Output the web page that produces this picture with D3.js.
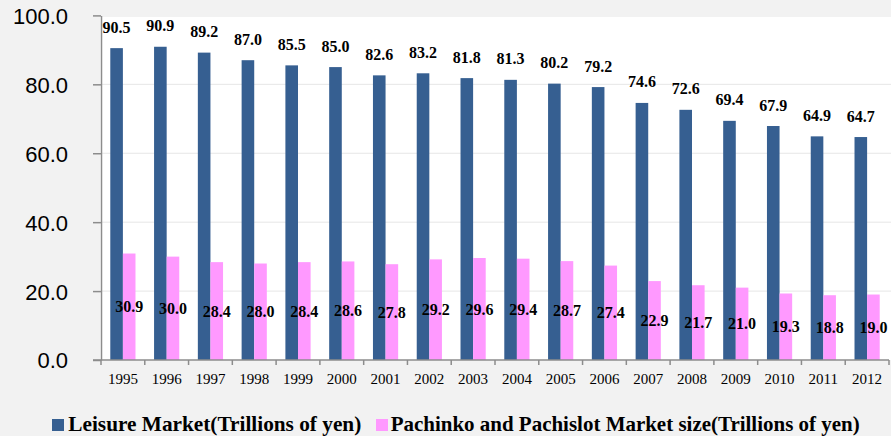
<!DOCTYPE html>
<html>
<head>
<meta charset="utf-8">
<script src="https://cdn.jsdelivr.net/npm/d3@7"></script>
<style>
  html, body { margin: 0; padding: 0; background: #f2f2f2; }
  svg { display: block; }
</style>
</head>
<body>
<svg id="chart" width="891" height="436"></svg>
<script>
const years = ["1995","1996","1997","1998","1999","2000","2001","2002","2003","2004","2005","2006","2007","2008","2009","2010","2011","2012"];
const leisure = [90.5,90.9,89.2,87.0,85.5,85.0,82.6,83.2,81.8,81.3,80.2,79.2,74.6,72.6,69.4,67.9,64.9,64.7];
const pachinko = [30.9,30.0,28.4,28.0,28.4,28.6,27.8,29.2,29.6,29.4,28.7,27.4,22.9,21.7,21.0,19.3,18.8,19.0];
const yTicks = [0,20,40,60,80,100];
const seriesNames = ["Leisure Market(Trillions of yen)", "Pachinko and Pachislot Market size(Trillions of yen)"];
const colors = ["#365f91", "#ff99ff"];

(function () {
const svg = d3.select("#chart");
const W = 891, H = 436;
const pLeft = 101, pRight = 889, pTop = 15.4, pBottom = 360;

svg.append("rect").attr("width", W).attr("height", H).attr("fill", "#f2f2f2");
svg.append("rect").attr("x", 100).attr("y", 17).attr("width", W - 100).attr("height", pBottom - 17).attr("fill", "#ffffff");

const x = d3.scaleBand().domain(years).range([pLeft, pRight]).padding(0);
const y = d3.scaleLinear().domain([0, 100]).range([pBottom, pTop]);
const bw = 12.6;

// gridlines
svg.append("g").selectAll("line").data(yTicks.filter(t => t > 0 && t < 100)).join("line")
  .attr("x1", pLeft).attr("x2", W).attr("y1", d => y(d)).attr("y2", d => y(d))
  .attr("stroke", "#e6e6e6").attr("stroke-width", 1);

// bars
const gB = svg.append("g");
gB.selectAll("rect.l").data(years).join("rect").attr("class", "l")
  .attr("x", d => x(d) + x.bandwidth() / 2 - bw)
  .attr("y", (d, i) => y(leisure[i]))
  .attr("width", bw)
  .attr("height", (d, i) => pBottom - y(leisure[i]))
  .attr("fill", colors[0]);
gB.selectAll("rect.p").data(years).join("rect").attr("class", "p")
  .attr("x", d => x(d) + x.bandwidth() / 2)
  .attr("y", (d, i) => y(pachinko[i]))
  .attr("width", bw)
  .attr("height", (d, i) => pBottom - y(pachinko[i]))
  .attr("fill", colors[1]);

// axes
const yAxis = d3.axisLeft(y).tickValues(yTicks).tickSize(8).tickSizeOuter(0).tickFormat(d3.format(".1f"));
const gy = svg.append("g").attr("transform", `translate(${pLeft},0)`).call(yAxis);
gy.select(".domain").attr("stroke", "#8c8c8c").attr("stroke-width", 1.5);
gy.selectAll(".tick line").attr("stroke", "#8c8c8c").attr("stroke-width", 1.5);
gy.selectAll(".tick text")
  .attr("x", -33).attr("dy", "0.36em")
  .attr("font-family", "'Liberation Sans', Arial, sans-serif")
  .attr("font-size", 22).attr("fill", "#000");

const xAxis = d3.axisBottom(x).tickSize(0).tickSizeOuter(0);
const gx = svg.append("g").attr("transform", `translate(0,${pBottom})`).call(xAxis);
gx.select(".domain").attr("stroke", "#8c8c8c").attr("stroke-width", 1.5).attr("d", `M${pLeft - 8},0H${pRight}`);
gx.selectAll(".tick text")
  .attr("y", 23.5).attr("dy", 0)
  .attr("font-family", "'Liberation Serif', 'Times New Roman', serif")
  .attr("font-size", 15).attr("fill", "#000");
// category boundary ticks
gx.append("g").selectAll("line").data(years.concat(["end"])).join("line")
  .attr("x1", (d, i) => i < years.length ? x(d) : pRight)
  .attr("x2", (d, i) => i < years.length ? x(d) : pRight)
  .attr("y1", 0).attr("y2", 5)
  .attr("stroke", "#8c8c8c").attr("stroke-width", 1.5);

// data labels
const fmt = d3.format(".1f");
const gL = svg.append("g")
  .attr("font-family", "'Liberation Serif', 'Times New Roman', serif")
  .attr("font-weight", "bold").attr("font-size", 16).attr("fill", "#000")
  .attr("text-anchor", "middle");
gL.selectAll("text.l").data(years).join("text").attr("class", "l")
  .attr("x", d => x(d) + x.bandwidth() / 2 - bw / 2)
  .attr("y", (d, i) => y(leisure[i]) - 15.5)
  .text((d, i) => fmt(leisure[i]));
gL.selectAll("text.p").data(years).join("text").attr("class", "p")
  .attr("x", d => x(d) + x.bandwidth() / 2 + bw / 2)
  .attr("y", (d, i) => (y(pachinko[i]) + pBottom) / 2 + 5.6)
  .text((d, i) => fmt(pachinko[i]));

// legend
const legend = [
  { name: seriesNames[0], color: colors[0], sx: 52, tx: 68.3, len: 293 },
  { name: seriesNames[1], color: colors[1], sx: 376, tx: 390.7, len: 469 }
];
const gLeg = svg.append("g");
legend.forEach(l => {
  gLeg.append("rect").attr("x", l.sx).attr("y", 419).attr("width", 12).attr("height", 12).attr("fill", l.color);
  gLeg.append("text").attr("x", l.tx).attr("y", 430.5)
    .attr("font-family", "'Liberation Serif', 'Times New Roman', serif")
    .attr("font-weight", "bold").attr("font-size", 21).attr("fill", "#000")
    .attr("textLength", l.len).attr("lengthAdjust", "spacingAndGlyphs")
    .text(l.name);
});
})();
</script>
</body>
</html>
